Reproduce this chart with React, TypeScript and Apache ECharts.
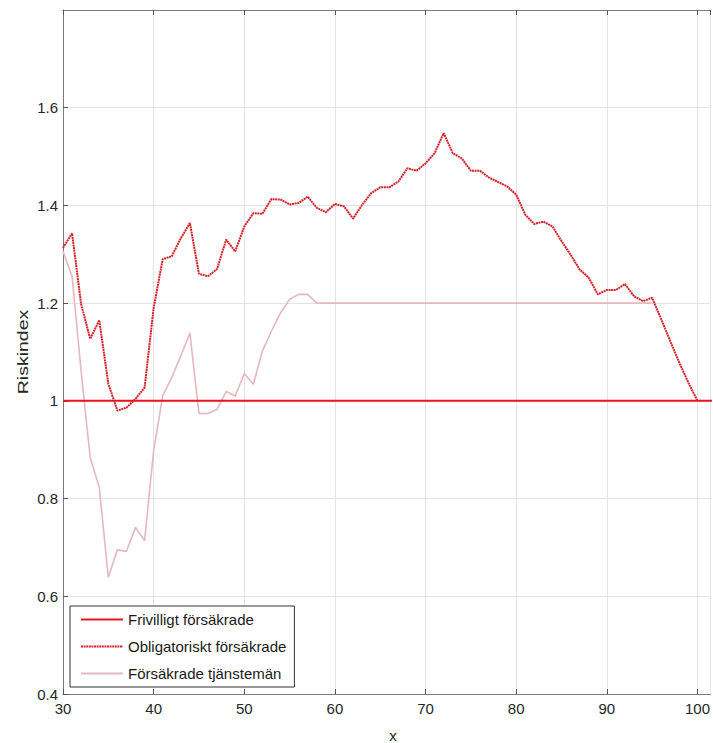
import React, { useEffect, useRef } from "react";
import * as echarts from "echarts";

const ages = [
  30, 31, 32, 33, 34, 35, 36, 37, 38, 39,
  40, 41, 42, 43, 44, 45, 46, 47, 48, 49,
  50, 51, 52, 53, 54, 55, 56, 57, 58, 59,
  60, 61, 62, 63, 64, 65, 66, 67, 68, 69,
  70, 71, 72, 73, 74, 75, 76, 77, 78, 79,
  80, 81, 82, 83, 84, 85, 86, 87, 88, 89,
  90, 91, 92, 93, 94, 95, 96, 97, 98, 99, 100,
];

const obligatoriskt = [
  1.313, 1.343, 1.198, 1.127, 1.165, 1.035, 0.98, 0.986, 1.004, 1.027,
  1.19, 1.29, 1.296, 1.333, 1.364, 1.26, 1.255, 1.27, 1.33, 1.306,
  1.357, 1.384, 1.383, 1.413, 1.412, 1.402, 1.405, 1.418, 1.395, 1.386,
  1.403, 1.398, 1.373, 1.401, 1.425, 1.437, 1.437, 1.449, 1.476, 1.471,
  1.486, 1.507, 1.548, 1.507, 1.496, 1.471, 1.471, 1.457, 1.448, 1.439,
  1.422, 1.381, 1.362, 1.367, 1.357, 1.327, 1.299, 1.269, 1.252, 1.218,
  1.227, 1.227, 1.239, 1.214, 1.204, 1.211, 1.167, 1.122, 1.078, 1.037, 1.0,
];

const tjanstemanAges = ages.slice(0, 66);
const tjansteman = [
  1.306, 1.255, 1.06, 0.884, 0.823, 0.639, 0.695, 0.692, 0.741, 0.714,
  0.898, 1.01, 1.048, 1.092, 1.139, 0.974, 0.974, 0.983, 1.019, 1.01,
  1.056, 1.034, 1.102, 1.143, 1.18, 1.208, 1.218, 1.218, 1.2, 1.2,
  1.2, 1.2, 1.2, 1.2, 1.2, 1.2, 1.2, 1.2, 1.2, 1.2,
  1.2, 1.2, 1.2, 1.2, 1.2, 1.2, 1.2, 1.2, 1.2, 1.2,
  1.2, 1.2, 1.2, 1.2, 1.2, 1.2, 1.2, 1.2, 1.2, 1.2,
  1.2, 1.2, 1.2, 1.2, 1.2, 1.2,
];

const frivilligtAges = [30, 102];
const frivilligt = [1, 1];

const seriesNames = [
  "Frivilligt försäkrade",
  "Obligatoriskt försäkrade",
  "Försäkrade tjänstemän",
];

const zip = (xs: number[], ys: number[]) => xs.map((x, i) => [x, ys[i]]);

const FONT = "'Liberation Sans', Arial, Helvetica, sans-serif";

export default function App() {
  const ref = useRef<HTMLDivElement>(null);

  useEffect(() => {
    if (!ref.current) return;
    const chart = echarts.init(ref.current, undefined, { renderer: "svg" });
    const axisLine = { show: true, lineStyle: { color: "#7a7a7a", width: 1 } };
    const axisTick = { show: true, inside: true, length: 5, lineStyle: { color: "#555" } };
    const splitLine = { show: true, lineStyle: { color: "#e4e4e4", width: 1 } };
    chart.setOption({
      animation: false,
      backgroundColor: "#ffffff",
      grid: { left: 63, top: 10, right: 0, bottom: 49, containLabel: false },
      xAxis: [
        {
          type: "value",
          min: 30,
          max: 101.4,
          interval: 10,
          axisLine,
          axisTick,
          splitLine,
          axisLabel: {
            showMaxLabel: false,
            color: "#262626",
            fontSize: 15,
            fontFamily: FONT,
            margin: 7,
            formatter: (v: number) => (Math.abs(v % 10) < 1e-6 ? String(v) : ""),
          },
        },
        {
          type: "value",
          position: "top",
          min: 30,
          max: 101.4,
          interval: 10,
          axisLine,
          axisTick,
          splitLine: { show: false },
          axisLabel: { show: false },
        },
      ],
      yAxis: {
        type: "value",
        min: 0.4,
        max: 1.8,
        interval: 0.2,
        axisLine,
        axisTick,
        splitLine,
        axisLabel: {
          showMaxLabel: false,
          color: "#262626",
          fontSize: 15,
          fontFamily: FONT,
          margin: 5,
          formatter: (v: number) => String(+v.toFixed(1)),
        },
      },
      legend: {
        orient: "vertical",
        left: 70,
        top: 606,
        data: seriesNames,
        backgroundColor: "#ffffff",
        borderColor: "#333333",
        borderWidth: 1,
        borderRadius: 0,
        padding: [6, 8, 6, 10],
        itemWidth: 42,
        itemHeight: 14,
        itemGap: 12,
        itemStyle: { opacity: 0 },
        textStyle: { fontSize: 15, color: "#1a1a1a", fontFamily: FONT },
      },
      graphic: [
        {
          type: "text",
          x: 23,
          y: 352,
          rotation: Math.PI / 2,
          scaleX: 1.3,
          style: {
            text: "Riskindex",
            fontSize: 15,
            fontFamily: FONT,
            fill: "#262626",
            textAlign: "center",
            textVerticalAlign: "middle",
          },
        },
        {
          type: "text",
          x: 393,
          y: 735,
          style: {
            text: "x",
            fontSize: 15,
            fontFamily: FONT,
            fill: "#262626",
            textAlign: "center",
            textVerticalAlign: "middle",
          },
        },
      ],
      series: [
        {
          name: seriesNames[0],
          type: "line",
          data: zip(frivilligtAges, frivilligt),
          symbol: "none",
          z: 3,
          lineStyle: { color: "#e8161d", width: 2 },
          itemStyle: { color: "#e8161d" },
        },
        {
          name: seriesNames[1],
          type: "line",
          data: zip(ages, obligatoriskt),
          symbol: "none",
          z: 4,
          lineStyle: { color: "#d5232b", width: 2, type: [2, 0.6] },
          itemStyle: { color: "#d5232b" },
        },
        {
          name: seriesNames[2],
          type: "line",
          data: zip(tjanstemanAges, tjansteman),
          symbol: "none",
          z: 2,
          lineStyle: { color: "#e6b8be", width: 1.6 },
          itemStyle: { color: "#e6b8be" },
        },
      ],
    });
    return () => chart.dispose();
  }, []);

  return (
    <div
      ref={ref}
      style={{ position: "fixed", left: 0, top: 0, width: 713, height: 743 }}
    />
  );
}
